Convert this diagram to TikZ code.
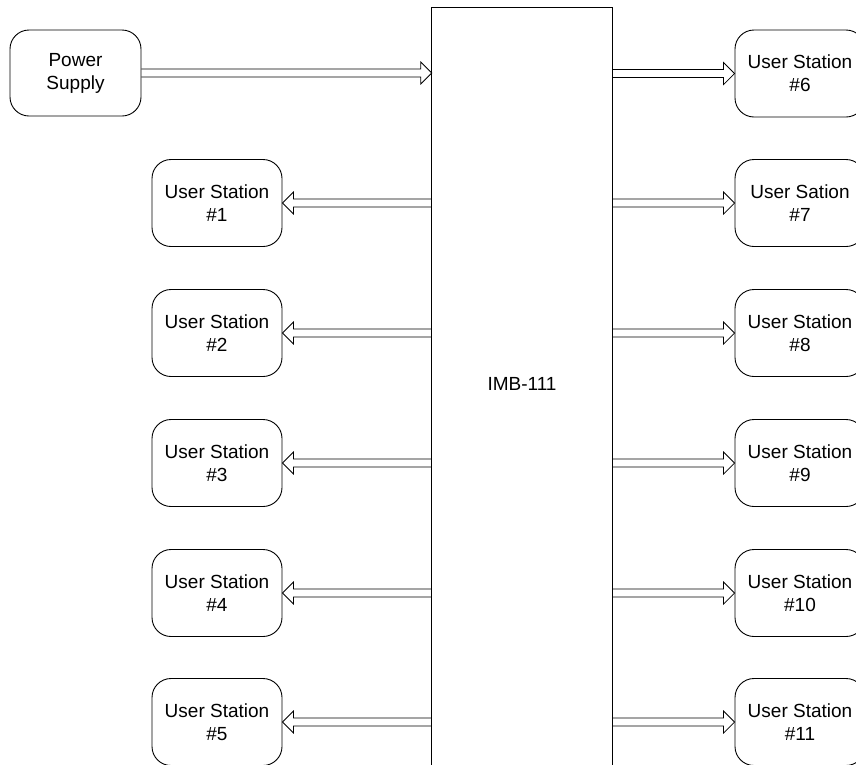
\documentclass[tikz,border=0pt]{standalone}
\usepackage{fontspec}
\setmainfont{Liberation Sans}
\usetikzlibrary{calc}
\tikzset{
  stationbox/.style={draw=black, line width=0.9pt, rounded corners=19pt,
    minimum width=130pt, minimum height=87pt, align=center, inner sep=0pt,
    font=\fontsize{19}{23}\selectfont},
  hubbox/.style={draw=none, minimum width=180pt, minimum height=752pt, inner sep=0pt,
    font=\fontsize{19}{23}\selectfont},
  hubline/.style={draw=black, line width=0.9pt},
  conn/.style={draw=black, line width=0.8pt, line join=miter}
}
% hollow horizontal arrow from #1 to #2 (tip at #2)
\newcommand{\hollowarrow}[2]{%
  \draw[conn] let \p1=#1, \p2=#2, \n1={sign(\x2-\x1)} in
    (\x1,\y1+4pt) -- (\x2-\n1*11pt,\y1+4pt) -- (\x2-\n1*11pt,\y1+11pt) -- (\x2,\y1)
    -- (\x2-\n1*11pt,\y1-11pt) -- (\x2-\n1*11pt,\y1-4pt) -- (\x1,\y1-4pt);}
\begin{document}
\begin{tikzpicture}[x=1pt,y=-1pt]
\useasboundingbox (0,0) rectangle (856,764);
\clip (0,0) rectangle (856,764);
% hub
\node[hubbox] (imb) at (522,384) {IMB-111};
\draw[hubline] ([yshift=-30pt]imb.south west) -- (imb.north west) -- (imb.north east) -- ([yshift=-30pt]imb.south east);
% power supply
\node[stationbox, minimum width=131pt, minimum height=86pt] (ps) at (75.5,73) {Power\\Supply};
% left stations
\node[stationbox] (u1) at (217,203) {User Station\\\#1};
\node[stationbox] (u2) at (217,333) {User Station\\\#2};
\node[stationbox] (u3) at (217,463) {User Station\\\#3};
\node[stationbox] (u4) at (217,593) {User Station\\\#4};
\node[stationbox] (u5) at (217,722) {User Station\\\#5};
% right stations
\node[stationbox] (u6) at (800,73.5) {User Station\\\#6};
\node[stationbox] (u7) at (800,203) {User Sation\\\#7};
\node[stationbox] (u8) at (800,333) {User Station\\\#8};
\node[stationbox] (u9) at (800,463) {User Station\\\#9};
\node[stationbox] (u10) at (800,593) {User Station\\\#10};
\node[stationbox] (u11) at (800,722) {User Station\\\#11};
% connectors
\hollowarrow{(ps.east)}{(imb.west |- ps.east)}
\foreach \s in {u1,u2,u3,u4,u5}{\hollowarrow{(imb.west |- \s.east)}{(\s.east)}}
\foreach \s in {u6,u7,u8,u9,u10,u11}{\hollowarrow{(imb.east |- \s.west)}{(\s.west)}}
\end{tikzpicture}
\end{document}
